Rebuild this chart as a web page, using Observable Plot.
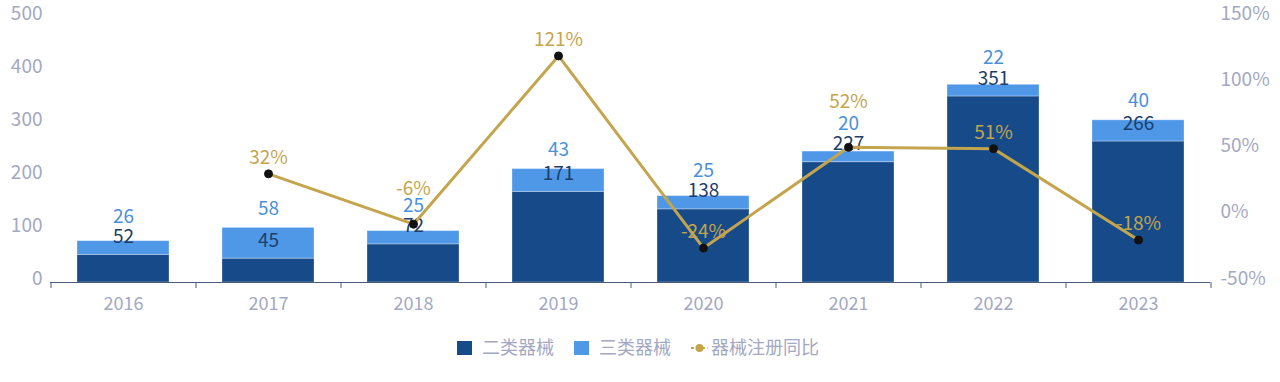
<!DOCTYPE html>
<html>
<head>
<meta charset="utf-8">
<script src="https://cdn.jsdelivr.net/npm/d3@7"></script>
<script src="https://cdn.jsdelivr.net/npm/@observablehq/plot@0.6"></script>
<style>
  body { margin: 0; background: #fff; font-family: "Noto Sans CJK SC", "Noto Sans", sans-serif; }
  #chart svg { display: block; }
  .legend { display: flex; justify-content: center; align-items: center; height: 42px; font-size: 18px; color: #a3a8c3; margin-right: 4px; }
  .item { display: flex; align-items: center; margin: 0 10px; }
  .sw { width: 15px; height: 14px; margin-right: 10px; margin-top: 3px; }
</style>
</head>
<body>
<div id="chart"></div>
<div class="legend">
  <div class="item"><div class="sw" style="background:#174a88"></div>二类器械</div>
  <div class="item"><div class="sw" style="background:#4f98e8"></div>三类器械</div>
  <div class="item"><svg width="17" height="15" style="margin-right:3px;margin-top:3px"><line x1="0" y1="8" x2="17" y2="8" stroke="#c4a54e" stroke-width="2" stroke-dasharray="3,2.5"/><circle cx="8.5" cy="8" r="4" fill="#c4a54e"/></svg>器械注册同比</div>
</div>
<script>
const years = ["2016", "2017", "2018", "2019", "2020", "2021", "2022", "2023"];
const class2 = [52, 45, 72, 171, 138, 227, 351, 266];
const class3 = [26, 58, 25, 43, 25, 20, 22, 40];
const growth = [null, 32, -6, 121, -24, 52, 51, -18];
const types = ["二类器械", "三类器械"];
const leftTicks = [0, 100, 200, 300, 400, 500];
const rightTicks = [-50, 0, 50, 100, 150];

const dark = "#174a88", light = "#4f98e8", gold = "#c4a54e", axisGray = "#a3a8c3";
const toLeft = g => (g + 50) / 200 * 500;
// minimal vertical gap (in value units) between stacked value labels
const labelGap = 36;

const rows = years.flatMap((yr, i) => [
  {year: yr, type: types[0], value: class2[i]},
  {year: yr, type: types[1], value: class3[i]}
]);
const gData = years.map((yr, i) => ({year: yr, g: growth[i]})).filter(d => d.g !== null);
// labels lifted above the bar value labels to avoid overlap (as in the reference)
const lifted = new Set(["2018", "2021"]);

const chart = Plot.plot({
  width: 1280,
  height: 325,
  marginTop: 17,
  marginBottom: 43,
  marginLeft: 50,
  marginRight: 70,
  style: {fontFamily: '"Noto Sans CJK SC", "Noto Sans", sans-serif', background: "#fff"},
  x: {domain: years, paddingInner: 0.366, paddingOuter: 0.183, axis: null},
  y: {domain: [0, 500], axis: null},
  color: {domain: types, range: [dark, light]},
  marks: [
    Plot.text(leftTicks, {y: d => d, text: d => String(d), frameAnchor: "left", textAnchor: "end", dx: -8, dy: -4, fontSize: 19, fill: axisGray}),
    Plot.text(rightTicks, {y: d => toLeft(d), text: d => d + "%", frameAnchor: "right", textAnchor: "start", dx: 10, dy: -4, fontSize: 19, fill: axisGray}),
    Plot.barY(rows, {x: "year", y: "value", fill: "type", stroke: "#ffffff", strokeOpacity: 0.3, strokeWidth: 1}),
    Plot.ruleY([0], {stroke: "#4b5b7b", strokeWidth: 1.2}),
    Plot.ruleX(years, {x: d => d, dx: -72.5, y1: 0, y2: -11.3, stroke: "#4b5b7b"}),
    Plot.ruleX([years[years.length - 1]], {x: d => d, dx: 72.5, y1: 0, y2: -11.3, stroke: "#4b5b7b"}),
    Plot.text(years, {x: d => d, y: 0, dy: 22, text: d => d, fontSize: 18, fill: axisGray}),
    Plot.text(years, {x: d => d, y: (d, i) => class2[i], text: (d, i) => String(class2[i]), dy: -18, fontSize: 19, fill: "#1d3d6b"}),
    Plot.text(years, {x: d => d, y: (d, i) => Math.max(class2[i] + class3[i], class2[i] + labelGap), text: (d, i) => String(class3[i]), dy: -19, fontSize: 19, fill: "#4a90dc"}),
    Plot.text(gData, {filter: d => !lifted.has(d.year), x: "year", y: d => toLeft(d.g), text: d => d.g + "%", dy: -16, fontSize: 19, fill: gold}),
    Plot.text(gData, {filter: d => d.year === "2018", x: "year", y: d => toLeft(d.g), text: d => d.g + "%", dy: -35, fontSize: 19, fill: gold}),
    Plot.text(gData, {filter: d => d.year === "2021", x: "year", y: d => toLeft(d.g), text: d => d.g + "%", dy: -45, fontSize: 19, fill: gold}),
    Plot.line(gData, {x: "year", y: d => toLeft(d.g), stroke: gold, strokeWidth: 3}),
    Plot.dot(gData, {x: "year", y: d => toLeft(d.g), r: 4, fill: "#111", stroke: "#111", strokeWidth: 1})
  ]
});
document.getElementById("chart").appendChild(chart);
</script>
</body>
</html>
